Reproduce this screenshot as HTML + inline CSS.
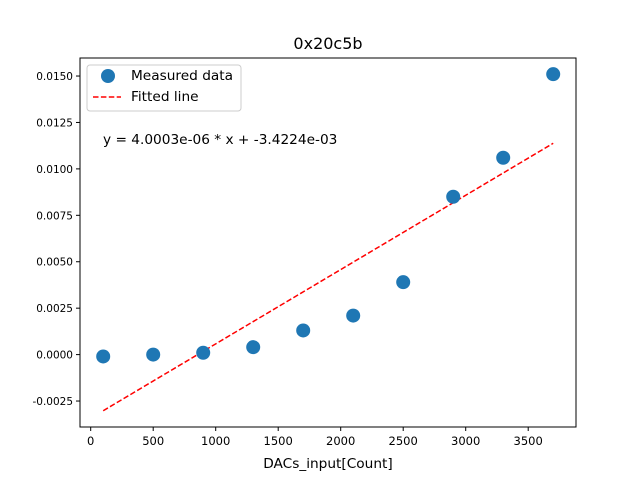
<!DOCTYPE html>
<html><head><meta charset="utf-8"><style>body{margin:0;background:#fff}svg{font-family:"DejaVu Sans","Liberation Sans",sans-serif}</style></head>
<body>
<svg id="c" width="640" height="480" xmlns="http://www.w3.org/2000/svg"></svg>
<script>
const xVals=[100,500,900,1300,1700,2100,2500,2900,3300,3700];
const yVals=[-0.0001,0.0000,0.0001,0.0004,0.0013,0.0021,0.0039,0.0085,0.0106,0.0151];
const xTicks=[0,500,1000,1500,2000,2500,3000,3500];
const yTicks=[-0.0025,0,0.0025,0.005,0.0075,0.01,0.0125,0.015];
const slope=4.0003e-06, intercept=-3.4224e-03;
const svg=document.getElementById('c');const NS='http://www.w3.org/2000/svg';
const L=80,R=576,T=58,B=427;
const sx=v=>90.7+v*0.125;
const sy=v=>354.6-v*(325/0.0175);
function mk(t,a,p){const e=document.createElementNS(NS,t);for(const k in a)e.setAttribute(k,a[k]);(p||svg).appendChild(e);return e;}
let e;
e=mk('rect',{x:L,y:T,width:R-L,height:B-T,fill:'none',stroke:'#000','stroke-width':1});


xTicks.forEach(v=>{const x=sx(v);mk('line',{x1:x,x2:x,y1:B,y2:B+4,stroke:'#000'});
e=mk('text',{x:x,y:B+18,'font-size':11.5,'text-anchor':'middle'});e.textContent=v;

});
yTicks.forEach(v=>{const y=sy(v);mk('line',{x1:L-4,x2:L,y1:y,y2:y,stroke:'#000'});
e=mk('text',{x:L-7,y:y+4,'font-size':10.5,'text-anchor':'end'});e.textContent=v.toFixed(4);

});
e=mk('text',{x:328,y:468,'font-size':13.7,'text-anchor':'middle'});e.textContent='DACs_input[Count]';


e=mk('text',{x:0,y:0,'font-size':13.7,'text-anchor':'middle',transform:'translate(-3,243) rotate(-90)'});e.textContent='Volt[V]';


e=mk('text',{x:328,y:49,'font-size':16,'text-anchor':'middle'});e.textContent='0x20c5b';


const x0=xVals[0],x1=xVals[xVals.length-1];
e=mk('line',{x1:sx(x0),y1:sy(slope*x0+intercept),x2:sx(x1),y2:sy(slope*x1+intercept),stroke:'red','stroke-width':1.5,'stroke-dasharray':'5.5,2.4'});


xVals.forEach((v,i)=>{e=mk('circle',{cx:sx(v),cy:sy(yVals[i]),r:7,fill:'#1f77b4'});

});
e=mk('text',{x:103,y:144,'font-size':13.7});e.textContent='y = 4.0003e-06 * x + -3.4224e-03';


const g=mk('g',{});


mk('rect',{x:87,y:65,width:154,height:46,rx:3,fill:'#fff',stroke:'#ccc'},g);
mk('circle',{cx:108,cy:76,r:7,fill:'#1f77b4'},g);
e=mk('text',{x:131,y:80,'font-size':13.7},g);e.textContent='Measured data';


mk('line',{x1:93,x2:121,y1:97,y2:97,stroke:'red','stroke-width':1.5,'stroke-dasharray':'5.5,2.4'},g);
e=mk('text',{x:131,y:101,'font-size':13.7},g);e.textContent='Fitted line';


</script>
</body></html>
